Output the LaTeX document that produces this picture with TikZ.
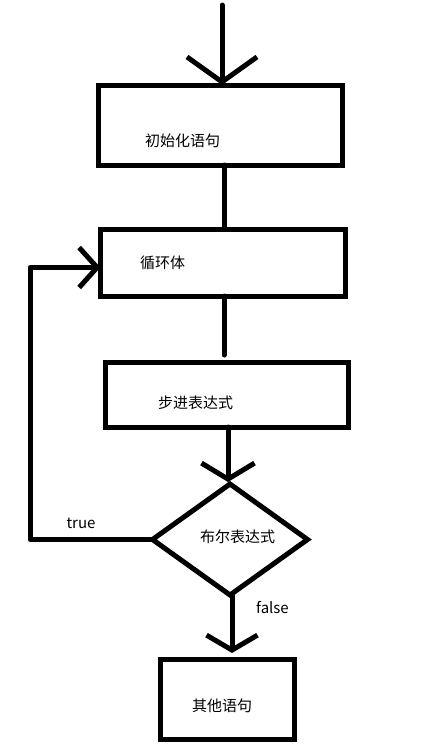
\documentclass[tikz,border=0pt]{standalone}
\usepackage{fontspec}
\setmainfont{Noto Sans CJK SC}
\usetikzlibrary{arrows.meta,shapes.geometric}
\begin{document}
\begin{tikzpicture}[x=1pt,y=-1pt,line width=5pt,line cap=round,line join=round,
  box/.style={draw,rectangle,inner sep=0pt,outer sep=0pt,line cap=butt,line join=miter},
  cond/.style={draw,diamond,inner sep=0pt,outer sep=0pt,minimum width=155pt,minimum height=111pt,line join=miter},
  lbl/.style={font=\fontsize{15}{18}\selectfont,inner sep=0pt},
  bigtip/.style={-{Straight Barb[length=25pt,width=70pt]}},
  lefttip/.style={-{Straight Barb[length=18pt,width=40pt]}},
  midtip/.style={-{Straight Barb[length=16pt,width=53pt]}},
  lowtip/.style={-{Straight Barb[length=15pt,width=51pt]}}]
\fill[white] (0,0) rectangle (426,756);
\useasboundingbox (0,0) rectangle (426,756);
% boxes
\node[box,minimum width=244pt,minimum height=80pt] (b1) at (220,125) {};
\node[box,minimum width=245pt,minimum height=67pt] (b2) at (223,262.5) {};
\node[box,minimum width=243pt,minimum height=65pt] (b3) at (226.5,394.5) {};
\node[cond] (d) at (230,539.5) {};
\node[box,minimum width=134pt,minimum height=80pt] (b5) at (227,699) {};
% texts
\node[lbl] (t1) at (182.5,141) {初始化语句};
\node[lbl] (t2) at (162.5,263) {循环体};
\node[lbl] (t3) at (195.5,403) {步进表达式};
\node[lbl] (t4) at (237.5,537) {布尔表达式};
\node[lbl] (t5) at (222,706) {其他语句};
\node[lbl] (ltrue) at (81,523) {true};
\node[lbl] (lfalse) at (272.5,608) {false};
% connectors
\coordinate (top) at (222,5);
\coordinate (loop) at (30,541);
\draw[bigtip] (top) -- (top |- b1.north);
\draw ([xshift=4pt]b1.south) -- ([xshift=4pt]b1.south |- b2.north);
\draw ([xshift=1pt]b2.south) -- ([xshift=1pt,yshift=7pt]b2.south |- b3.north);
\draw[midtip] ([xshift=1.5pt]b3.south) -- ([xshift=1.5pt,yshift=2pt]b3.south |- d.north);
\draw[lowtip] ([xshift=2pt]d.south) -- ([xshift=2pt,yshift=6pt]d.south |- b5.north);
\draw[lefttip] (d.west) -- (d.west -| loop) |- ([yshift=-5pt]b2.west);
\end{tikzpicture}
\end{document}
